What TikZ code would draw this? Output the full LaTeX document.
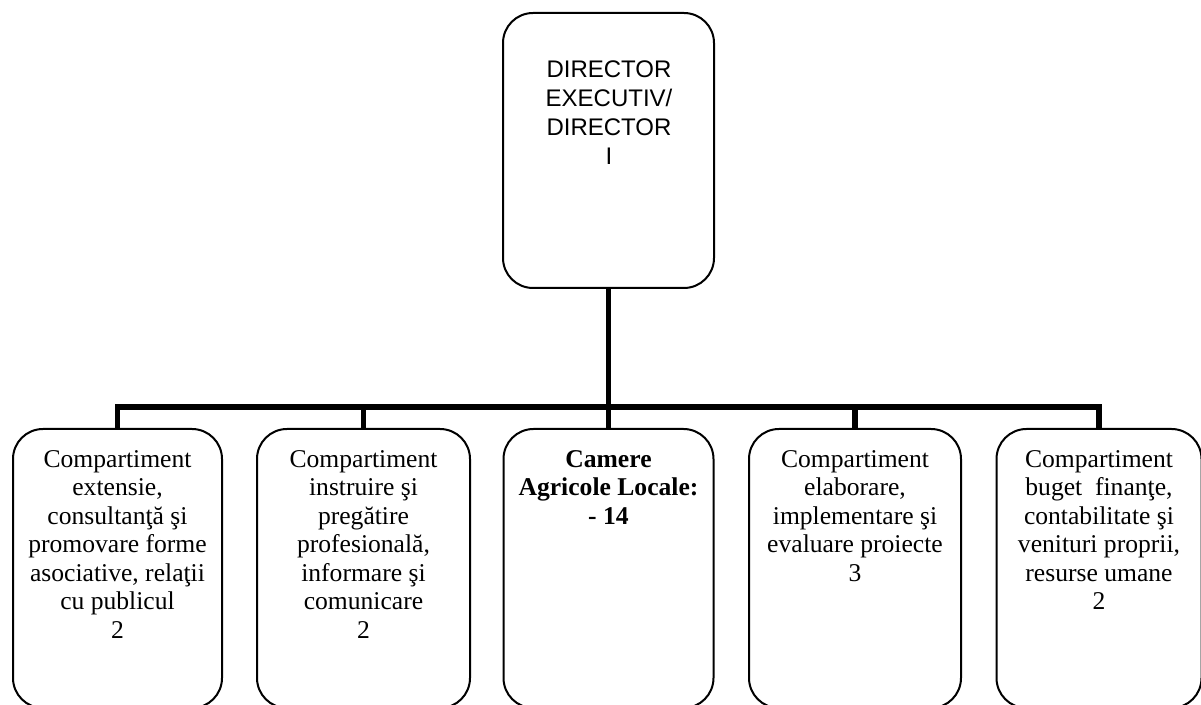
\documentclass[tikz,border=0pt]{standalone}
\usepackage{fontspec}
\setmainfont{Liberation Serif}
\newfontfamily\hdfont{Liberation Sans}
\begin{document}
\begin{tikzpicture}[x=0.5pt,y=-0.5pt,
  box/.style={draw,line width=1pt,rounded corners=15pt,inner sep=0pt,minimum height=137.5pt},
  lowbox/.style={box,minimum height=139.5pt},
  conn/.style={line width=2.8pt},
  txt/.style={align=center,inner sep=0pt,anchor=north,font=\fontsize{12.8}{14.25}\selectfont},
  hdtxt/.style={align=center,inner sep=0pt,anchor=north,font=\hdfont\fontsize{12}{14.5}\selectfont}]
\useasboundingbox (0,0) rectangle (1201,705);
% boxes
\node[box,minimum width=105.5pt] (top) at (608.5,150.5) {};
\node[lowbox,minimum width=104.5pt] (b1) at (117.5,568.5) {};
\node[lowbox,minimum width=106.5pt] (b2) at (363.5,568.5) {};
\node[lowbox,minimum width=105pt]   (b3) at (608.5,568.5) {};
\node[lowbox,minimum width=106pt]   (b4) at (855,568.5) {};
\node[lowbox,minimum width=102.5pt] (b5) at (1099,568.5) {};
% texts
\node[hdtxt] (t0) at (609,60) {DIRECTOR\\EXECUTIV/\\DIRECTOR\\I};
\node[txt] (t1) at (117.5,450) {Compartiment\\extensie,\\consultanţă şi\\promovare forme\\asociative, relaţii\\cu publicul\\2};
\node[txt] (t2) at (363.5,450) {Compartiment\\instruire şi\\pregătire\\profesională,\\informare şi\\comunicare\\2};
\node[txt,font=\bfseries\fontsize{12.8}{14.25}\selectfont] (t3) at (608.5,450) {Camere\\Agricole Locale:\\- 14};
\node[txt] (t4) at (855,450) {Compartiment\\elaborare,\\implementare şi\\evaluare proiecte\\3};
\node[txt] (t5) at (1099,450) {Compartiment\\buget~ finanţe,\\contabilitate şi\\venituri proprii,\\resurse umane\\2};
% connectors
\draw[conn] (top.south) -- (b3.north);
\draw[conn] (b1.north) -- ++(0,-21) -| (b5.north);
\draw[conn] (b2.north) -- ++(0,-21);
\draw[conn] (b4.north) -- ++(0,-21);
\end{tikzpicture}
\end{document}
